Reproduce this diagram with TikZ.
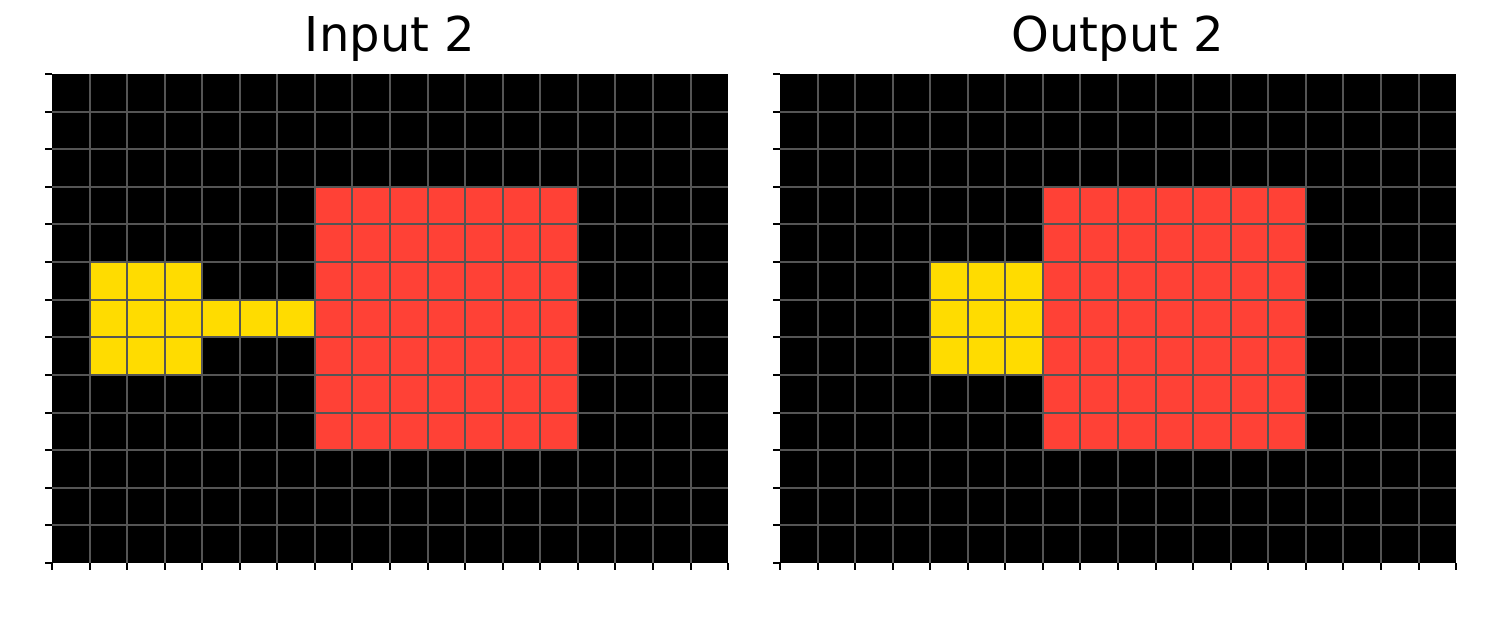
\documentclass[tikz,border=0pt]{standalone}
\usepackage{fontspec}
\setmainfont{DejaVu Sans}
\usetikzlibrary{positioning}
\definecolor{arcred}{HTML}{FF4136}
\definecolor{arcyellow}{HTML}{FFDC00}
\definecolor{gridgray}{HTML}{555555}
\tikzset{
  ptitle/.style={font=\fontsize{24}{28}\selectfont, anchor=base},
  panelgrid/.style={shift={(#1,74)}, x=18.78pt, y=-18.81pt},
  gridline/.style={draw=gridgray, line width=1pt},
  tickmark/.style={draw=black, line width=1pt},
}
% grid lines and ticks of one 18x13 panel
\newcommand{\drawpanelgrid}{%
  \foreach \i in {1,...,17} \draw[gridline] (\i,0) -- (\i,13);
  \foreach \j in {1,...,12} \draw[gridline] (0,\j) -- (18,\j);
  \foreach \i in {0,...,18} \draw[tickmark] (\i,13) -- ++(0,0.18);
  \foreach \j in {0,...,13} \draw[tickmark] (0,\j) -- ++(-0.18,0);
}
\begin{document}
\begin{tikzpicture}[x=0.5pt, y=-0.5pt]
  \useasboundingbox (0,0) rectangle (1500,629);
  \node[ptitle] (tin) at (390,51) {Input 2};
  \node[ptitle] (tout) at (1118,51) {Output 2};
  % input
  \begin{scope}[panelgrid=52]
    \fill[black] (0,0) rectangle (18,13);
    \fill[arcred] (7,3) rectangle (14,10);
    \fill[arcyellow] (1,5) rectangle (4,8);
    \fill[arcyellow] (4,6) rectangle (7,7);
    \drawpanelgrid
  \end{scope}
  % output
  \begin{scope}[panelgrid=780]
    \fill[black] (0,0) rectangle (18,13);
    \fill[arcred] (7,3) rectangle (14,10);
    \fill[arcyellow] (4,5) rectangle (7,8);
    \drawpanelgrid
  \end{scope}
\end{tikzpicture}
\end{document}
